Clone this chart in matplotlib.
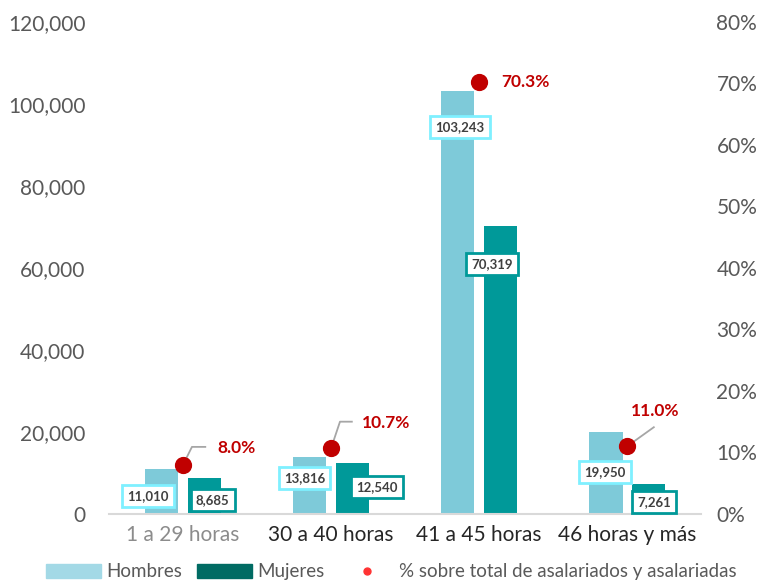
import numpy as np
import matplotlib.pyplot as plt
from matplotlib.patches import Patch
from matplotlib.lines import Line2D

# Data
categories = ['1 a 29 horas', '30 a 40 horas', '41 a 45 horas', '46 horas y más']
hombres = [11010, 13816, 103243, 19950]
mujeres = [8685, 12540, 70319, 7261]
porcentaje = [8.0, 10.7, 70.3, 11.0]

# Colours / style
c_hombres = '#7ECAD9'
c_mujeres = '#009999'
c_dot = '#C00000'
c_text = '#595959'

plt.rcParams['font.family'] = ['Lato', 'DejaVu Sans']

fig = plt.figure(figsize=(7.68, 5.86), dpi=100)
ax = fig.add_axes([0.142, 0.123, 0.771, 0.8395])
ax2 = ax.twinx()

x = np.arange(len(categories))
w = 0.223
off = 0.143

ax.bar(x - off, hombres, w, color=c_hombres, zorder=2)
ax.bar(x + off, mujeres, w, color=c_mujeres, zorder=2)

ax.set_xlim(-0.5, 3.5)
ax.set_ylim(0, 120000)
ax.set_yticks(range(0, 120001, 20000))
ax.set_yticklabels([f'{v:,}' for v in range(0, 120001, 20000)])
ax2.set_ylim(0, 80)
ax2.set_yticks(range(0, 81, 10))
ax2.set_yticklabels([f'{v}%' for v in range(0, 81, 10)])

for a in (ax, ax2):
    for s in a.spines.values():
        s.set_visible(False)
    a.tick_params(length=0, labelsize=15, labelcolor=c_text)
ax.spines['bottom'].set_visible(True)
ax.spines['bottom'].set_color('#D9D9D9')
ax.spines['bottom'].set_linewidth(1.5)
ax.tick_params(axis='y', pad=17)
ax2.tick_params(axis='y', pad=11)

ax.set_xticks(x)
ax.set_xticklabels(categories, fontsize=15, color='#262626')
ax.tick_params(axis='x', pad=8)
ax.get_xticklabels()[0].set_color('#8C8C8C')

# bar value labels (manually placed like the original)
h_lab = [(-0.24, 4400), (-0.18, 8800), (-0.13, 94400), (-0.15, 10200)]
m_lab = [(0.20, 3400), (0.31, 6600), (0.09, 61000), (0.18, 2900)]
for i in range(len(categories)):
    dx, y = h_lab[i]
    ax.text(i + dx, y, f'{hombres[i]:,}', ha='center', va='center', fontsize=9.5,
            fontweight='bold', color='#404040', zorder=5,
            bbox=dict(boxstyle='square,pad=0.4', fc='white', ec='#7FF0FF', lw=2))
    dx, y = m_lab[i]
    ax.text(i + dx, y, f'{mujeres[i]:,}', ha='center', va='center', fontsize=9.5,
            fontweight='bold', color='#404040', zorder=5,
            bbox=dict(boxstyle='square,pad=0.4', fc='white', ec=c_mujeres, lw=2))

# percentage dots
ax2.scatter(x, porcentaje, s=130, color=c_dot, zorder=4)
p_lab = [(0.36, 10.8), (0.37, 14.8), (0.31, 70.3), (0.19, 16.7)]
leaders = [[(0.06, 10.9), (0.15, 10.9)], [(0.06, 15.0), (0.14, 15.0)], None, [(0.18, 14.1)]]
for i in range(len(categories)):
    dx, y = p_lab[i]
    ax2.text(i + dx, y, f'{porcentaje[i]:.1f}%', ha='center', va='center', fontsize=12.5,
             fontweight='bold', color=c_dot, zorder=5)
    if leaders[i]:
        pts = [(i, porcentaje[i])] + [(i + a, b) for a, b in leaders[i]]
        ax2.plot([p[0] for p in pts], [p[1] for p in pts], color='#A6A6A6', lw=1.3, zorder=3)

handles = [Patch(color='#A3D9E6', label='Hombres'),
           Patch(color='#006B63', label='Mujeres'),
           Line2D([], [], marker='o', color='#FF3333', ls='', markersize=5,
                  label='% sobre total de asalariados y asalariadas')]
fig.legend(handles=handles, loc='center', bbox_to_anchor=(0.51, 0.024), ncol=3,
           frameon=False, fontsize=13.5, handlelength=2.9, handleheight=0.8,
           columnspacing=0.8, handletextpad=0.3, labelcolor='#595959')

fig.savefig('out.png', dpi=100)
